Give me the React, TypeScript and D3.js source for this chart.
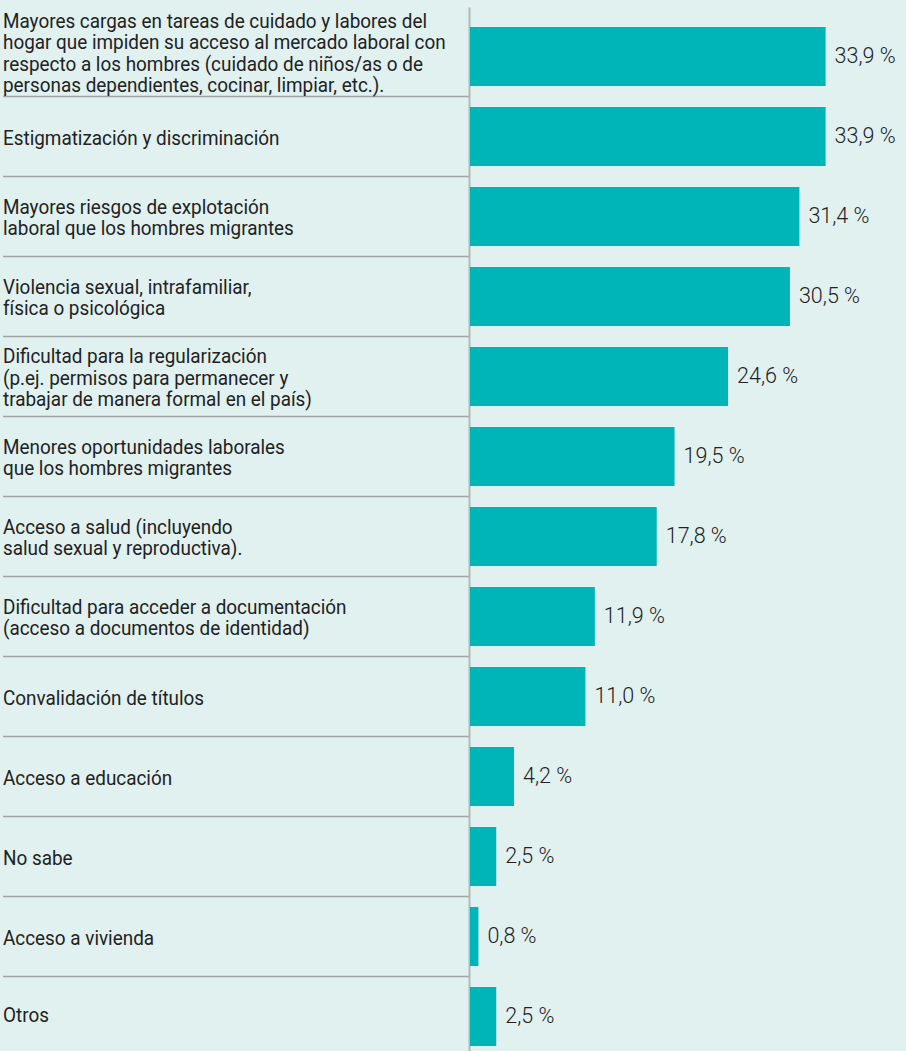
import React from "react";
import * as d3 from "d3";

const categories: string[][] = [
  [
    "Mayores cargas en tareas de cuidado y labores del",
    "hogar que impiden su acceso al mercado laboral con",
    "respecto a los hombres (cuidado de niños/as o de",
    "personas dependientes, cocinar, limpiar, etc.).",
  ],
  ["Estigmatización y discriminación"],
  ["Mayores riesgos de explotación", "laboral que los hombres migrantes"],
  ["Violencia sexual, intrafamiliar,", "física o psicológica"],
  [
    "Dificultad para la regularización",
    "(p.ej. permisos para permanecer y",
    "trabajar de manera formal en el país)",
  ],
  ["Menores oportunidades laborales", "que los hombres migrantes"],
  ["Acceso a salud (incluyendo", "salud sexual y reproductiva)."],
  ["Dificultad para acceder a documentación", "(acceso a documentos de identidad)"],
  ["Convalidación de títulos"],
  ["Acceso a educación"],
  ["No sabe"],
  ["Acceso a vivienda"],
  ["Otros"],
];

const values: number[] = [33.9, 33.9, 31.4, 30.5, 24.6, 19.5, 17.8, 11.9, 11.0, 4.2, 2.5, 0.8, 2.5];

const W = 906;
const H = 1051;
const BG = "#e1f1f0";
const BAR = "#00b5b8";
const TEXT = "#222222";

const fmt = (v: number) => d3.format(".1f")(v).replace(".", ",") + " %";

export default function App() {
  const ids = categories.map((_, i) => String(i));
  const y = d3
    .scaleBand<string>()
    .domain(ids)
    .range([16.5, 16.5 + 1040])
    .paddingInner(0.2625)
    .paddingOuter(0.13125);
  const x = d3.scaleLinear().domain([0, 40]).range([470, 470 + 419.6]);
  const bw = y.bandwidth();
  const step = y.step();
  const axisTop = 7.5;

  const seps = ids.slice(0, -1).map((id) => (y(id) as number) + bw + (step - bw) / 2);
  const bounds = [axisTop, ...seps, H];

  const labelFont = 20;
  const lineH = 21.5;
  const sx = 0.945;

  return (
    <svg
      width={W}
      height={H}
      style={{ position: "absolute", left: 0, top: 0, display: "block" }}
      fontFamily="Roboto, 'Noto Sans', sans-serif"
    >
      <rect x={0} y={0} width={W} height={H} fill={BG} />
      {seps.map((s, i) => (
        <line key={"s" + i} x1={3} x2={469} y1={s} y2={s} stroke="#9ea3a3" strokeWidth={1.4} />
      ))}
      <line x1={469.5} x2={469.5} y1={axisTop} y2={H} stroke="#b3b8b8" strokeWidth={2} />
      {ids.map((id, i) => {
        const top = y(id) as number;
        const cy = top + bw / 2;
        return (
          <g key={id}>
            <rect x={x(0)} y={top} width={x(values[i]) - x(0)} height={bw} fill={BAR} />
            <text
              x={x(values[i]) + 9}
              y={cy + 6.5}
              fontSize={21.5}
              fontWeight={300}
              fill={TEXT}
            >
              {fmt(values[i])}
            </text>
          </g>
        );
      })}
      {categories.map((lines, i) => {
        const c = (bounds[i] + bounds[i + 1]) / 2 + 1;
        const n = lines.length;
        return (
          <g key={"l" + i}>
            {lines.map((ln, j) => (
              <text
                key={j}
                transform={`translate(3,${c + 7 + (j - (n - 1) / 2) * lineH}) scale(${sx},1)`}
                fontSize={labelFont}
                fill={TEXT}
              >
                {ln}
              </text>
            ))}
          </g>
        );
      })}
    </svg>
  );
}
